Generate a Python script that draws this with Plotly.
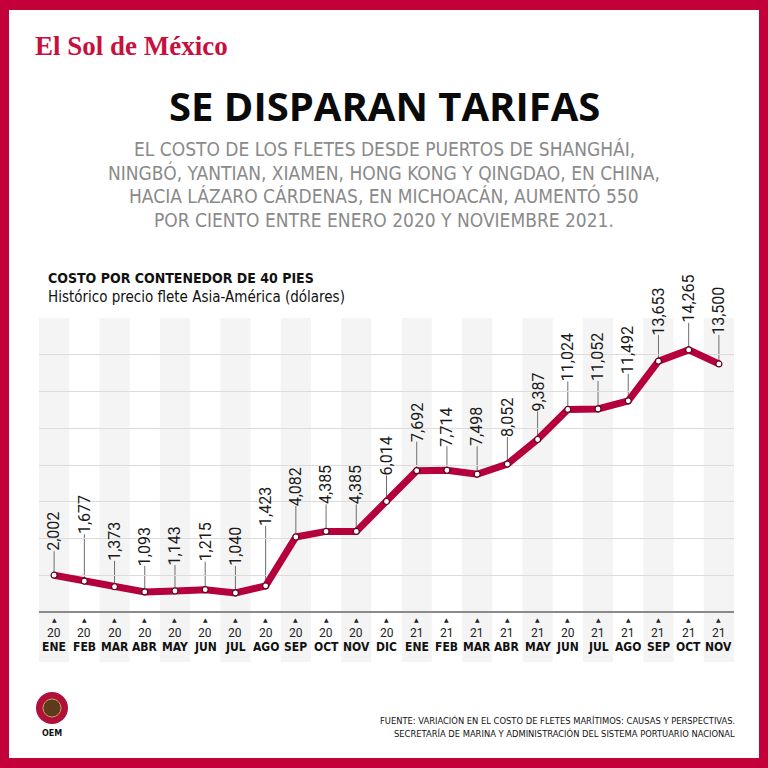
import plotly.graph_objects as go

# ---------------- data ----------------
months = ["ENE", "FEB", "MAR", "ABR", "MAY", "JUN", "JUL", "AGO", "SEP", "OCT", "NOV", "DIC",
          "ENE", "FEB", "MAR", "ABR", "MAY", "JUN", "JUL", "AGO", "SEP", "OCT", "NOV"]
years = ["20", "20", "20", "20", "20", "20", "20", "20", "20", "20", "20", "20",
         "21", "21", "21", "21", "21", "20", "21", "21", "21", "21", "21"]
values = [2002, 1677, 1373, 1093, 1143, 1215, 1040, 1423, 4082, 4385, 4385, 6014,
          7692, 7714, 7498, 8052, 9387, 11024, 11052, 11492, 13653, 14265, 13500]

title = "SE DISPARAN TARIFAS"
subtitle_lines = [
    "EL COSTO DE LOS FLETES DESDE PUERTOS DE SHANGHÁI,",
    "NINGBÓ, YANTIAN, XIAMEN, HONG KONG Y QINGDAO, EN CHINA,",
    "HACIA LÁZARO CÁRDENAS, EN MICHOACÁN, AUMENTÓ 550",
    "POR CIENTO ENTRE ENERO 2020 Y NOVIEMBRE 2021.",
]
chart_head = "COSTO POR CONTENEDOR DE 40 PIES"
chart_sub = "Histórico precio flete Asia-América (dólares)"
source_lines = [
    "FUENTE: VARIACIÓN EN EL COSTO DE FLETES MARÍTIMOS: CAUSAS Y PERSPECTIVAS.",
    "SECRETARÍA DE MARINA Y ADMINISTRACIÓN DEL SISTEMA PORTUARIO NACIONAL",
]

# label lift above each point (pixels)
label_lift = [23, 46, 25, 25, 25, 27, 26, 59, 30, 26, 26, 25,
              28, 23, 27, 26, 27, 27, 27, 26, 25, 26, 28]

# ---------------- styling ----------------
W = H = 768
RED = "#C4003A"
LINE = "#B5003C"
NARROW = "Liberation Sans Narrow, DejaVu Sans Condensed, Roboto Condensed, Roboto, sans-serif"


def px(x):
    return x / W


def py(y):
    return 1 - y / H


xs = list(range(len(values)))

fig = go.Figure()
fig.add_trace(go.Scatter(
    x=xs, y=values, mode="lines+markers",
    line=dict(color=LINE, width=7),
    marker=dict(size=6, color="white", line=dict(color="#5a0020", width=1.2)),
    hoverinfo="skip", showlegend=False,
))

shapes = []
# alternating column bands
for i in xs:
    if i % 2 == 0:
        shapes.append(dict(type="rect", xref="x", yref="paper",
                           x0=i - 0.5, x1=i + 0.5, y0=py(662), y1=py(318),
                           fillcolor="#F4F4F4", line=dict(width=0), layer="below"))
# leader lines
for i, v in enumerate(values):
    shapes.append(dict(type="line", xref="x", yref="y", ysizemode="pixel", yanchor=v,
                       x0=i, x1=i, y0=3, y1=label_lift[i] + 1,
                       line=dict(color="#6e6e6e", width=1), layer="below"))
# red frame
shapes += [
    dict(type="rect", xref="paper", yref="paper", x0=0, x1=1, y0=py(10), y1=1,
         fillcolor=RED, line=dict(width=0)),
    dict(type="rect", xref="paper", yref="paper", x0=0, x1=1, y0=0, y1=py(758),
         fillcolor=RED, line=dict(width=0)),
    dict(type="rect", xref="paper", yref="paper", x0=0, x1=px(9), y0=0, y1=1,
         fillcolor=RED, line=dict(width=0)),
    dict(type="rect", xref="paper", yref="paper", x0=px(759), x1=1, y0=0, y1=1,
         fillcolor=RED, line=dict(width=0)),
]
# OEM emblem
shapes += [
    dict(type="circle", xref="paper", yref="paper", x0=px(36), x1=px(68), y0=py(724), y1=py(692),
         fillcolor="#B0103A", line=dict(width=0)),
    dict(type="circle", xref="paper", yref="paper", x0=px(43), x1=px(61), y0=py(717), y1=py(699),
         fillcolor="#5b3a1e", line=dict(color="#c9a25a", width=1)),
]

ann = []
# data labels
for i, v in enumerate(values):
    ann.append(dict(x=i, y=v, xref="x", yref="y", text=f"{v:,}", textangle=-90,
                    showarrow=False, yanchor="bottom", xanchor="center",
                    yshift=label_lift[i], borderpad=0,
                    font=dict(family="Roboto", size=16, color="#1a1a1a")))
# x tick labels
for i in xs:
    ann.append(dict(x=i, y=py(619), xref="x", yref="paper", text="▲", showarrow=False,
                    xanchor="center", yanchor="middle", borderpad=0,
                    font=dict(family="DejaVu Sans", size=6, color="#222")))
    ann.append(dict(x=i, y=py(633), xref="x", yref="paper", text=years[i], showarrow=False,
                    xanchor="center", yanchor="middle", borderpad=0,
                    font=dict(family="Roboto", size=12, color="#222")))
    ann.append(dict(x=i, y=py(647), xref="x", yref="paper", text=f"<b>{months[i]}</b>",
                    showarrow=False, xanchor="center", yanchor="middle", borderpad=0,
                    font=dict(family=NARROW, size=12, color="#111")))

# header texts
ann.append(dict(x=px(33), y=py(46), xref="paper", yref="paper", xanchor="left", yanchor="middle",
                text="<b>El Sol de México</b>", showarrow=False,
                font=dict(family="Liberation Serif", size=27, color="#C8103E")))
ann.append(dict(x=0.5, y=py(105), xref="paper", yref="paper", xanchor="center", yanchor="middle",
                text=f"<b>{title}</b>",
                showarrow=False, font=dict(family="Open Sans", size=40, color="#0a0a0a")))
for line, yy in zip(subtitle_lines, [149, 172, 196, 220]):
    ann.append(dict(x=0.5, y=py(yy), xref="paper", yref="paper", xanchor="center", yanchor="middle",
                    text=line, showarrow=False,
                    font=dict(family=NARROW, size=19, color="#8a8a8a")))
ann.append(dict(x=px(46), y=py(278), xref="paper", yref="paper", xanchor="left", yanchor="middle",
                text=f"<b>{chart_head}</b>", showarrow=False,
                font=dict(family=NARROW, size=14, color="#111")))
ann.append(dict(x=px(46), y=py(297), xref="paper", yref="paper", xanchor="left", yanchor="middle",
                text=chart_sub, showarrow=False,
                font=dict(family=NARROW, size=15, color="#111")))
# footer
for line, yy in zip(source_lines, [720, 733]):
    ann.append(dict(x=px(737), y=py(yy), xref="paper", yref="paper", xanchor="right",
                    yanchor="middle", text=line, showarrow=False,
                    font=dict(family=NARROW, size=9.3, color="#111")))
ann.append(dict(x=px(52), y=py(733), xref="paper", yref="paper", text="<b>OEM</b>",
                xanchor="center", yanchor="middle",
                showarrow=False, font=dict(family="DejaVu Sans", size=8, color="#111")))

fig.update_layout(
    width=W, height=H, margin=dict(l=0, r=0, t=0, b=0),
    paper_bgcolor="white", plot_bgcolor="rgba(0,0,0,0)",
    shapes=shapes, annotations=ann, showlegend=False,
    xaxis=dict(domain=[px(39), px(734)], range=[-0.5, len(values) - 0.5],
               showgrid=False, zeroline=False, showticklabels=False, fixedrange=True),
    yaxis=dict(domain=[py(612), py(318)], range=[0, 16000], dtick=2000,
               showgrid=True, gridcolor="#DCDCDC", gridwidth=1,
               zeroline=True, zerolinecolor="#8a8a8a", zerolinewidth=1.5,
               showticklabels=False, fixedrange=True),
)

fig.write_html("out.html")
